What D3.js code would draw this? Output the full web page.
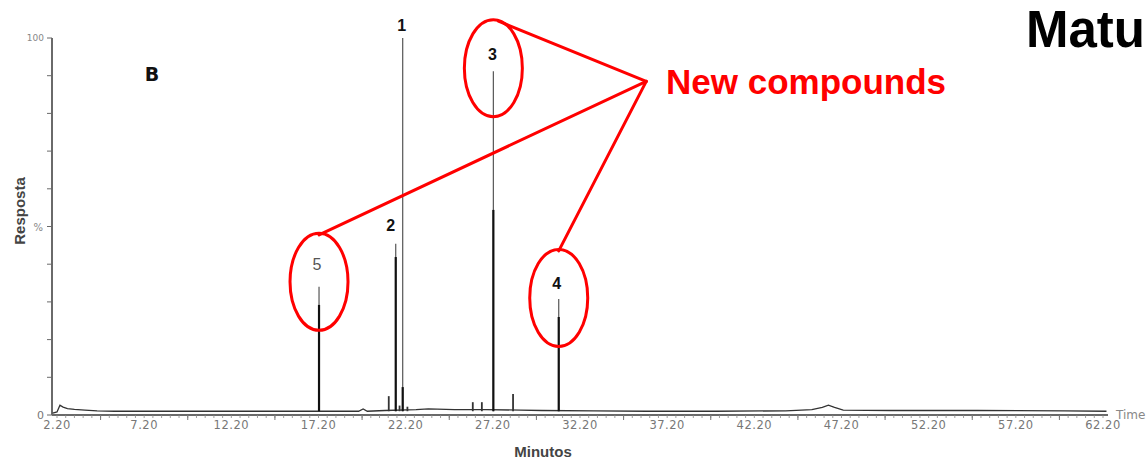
<!DOCTYPE html>
<html>
<head>
<meta charset="utf-8">
<script src="https://cdn.jsdelivr.net/npm/d3@7"></script>
<style>
  html, body { margin: 0; padding: 0; background: #fff; }
  svg { display: block; }
</style>
</head>
<body>
<svg id="chart" width="1147" height="460"></svg>
<script>
// baseline of the trace (minutes, % response)
var traceTimes  = [1.95, 2.2, 2.37, 2.55, 2.8, 3.2, 3.8, 4.5, 5.5, 8, 12, 16, 17.1, 19.5, 19.76, 20.0, 21.0, 22.8, 23.5, 25.0, 26.8, 28.8, 30.0, 33, 36, 40, 44, 45.5, 46.1, 46.45, 46.8, 47.3, 50, 55, 60, 62.4]
var traceValues = [0.5, 0.8, 2.6, 2.1, 1.7, 1.5, 1.3, 1.1, 1.0, 1.0, 1.0, 1.0, 1.0, 1.0, 1.6, 1.0, 1.2, 1.4, 1.6, 1.4, 1.4, 1.3, 1.2, 1.1, 1.0, 1.0, 1.1, 1.4, 2.0, 2.6, 2.0, 1.3, 1.2, 1.2, 1.1, 1.0]

// numbered peaks
var peakNames  = ['1', '2', '3', '4', '5']
var peakTimes  = [22.03, 21.63, 27.23, 30.98, 17.23]
var peakTops   = [100, 45.4, 91.2, 30.8, 34.0]
var peakBodies = [7.4, 41.9, 54.4, 26.0, 29.2]
var newCompounds = ['3', '4', '5']

// small unnamed peaks
var minorTimes  = [21.23, 21.85, 26.05, 26.57, 28.36, 22.3]
var minorValues = [5.0, 2.5, 3.4, 3.4, 5.6, 2.2]

var xLabels = ['2.20', '7.20', '12.20', '17.20', '22.20', '27.20', '32.20', '37.20', '42.20', '47.20', '52.20', '57.20', '62.20']

var svg = d3.select('#chart')
var x = d3.scaleLinear().domain([2.2, 62.2]).range([57, 1103])
var y = d3.scaleLinear().domain([0, 100]).range([415, 38])

var axisColor = '#6a6a6a'
var red = '#ff0000'

// y axis
svg.append('line').attr('x1', 52).attr('x2', 52).attr('y1', y(100)).attr('y2', y(0))
    .style('stroke', axisColor).style('stroke-width', 2)
svg.selectAll('.ytick').data(d3.range(0, 101, 10)).enter().append('line')
    .attr('class', 'ytick')
    .attr('x1', 47).attr('x2', 52).attr('y1', d=>y(d)).attr('y2', d=>y(d))
    .style('stroke', axisColor).style('stroke-width', 1)
svg.append('text').attr('x', 44).attr('y', y(100) + 3).attr('text-anchor', 'end')
    .style('font', '9px "DejaVu Sans"').style('fill', '#888').text('100')
svg.append('text').attr('x', 43).attr('y', y(50) + 4).attr('text-anchor', 'end')
    .style('font', '10px "DejaVu Sans"').style('fill', '#888').text('%')
svg.append('text').attr('x', 44).attr('y', y(0) + 4).attr('text-anchor', 'end')
    .style('font', '11px "DejaVu Sans"').style('fill', '#777').text('0')
svg.append('text').attr('transform', 'translate(25,211) rotate(-90)').attr('text-anchor', 'middle')
    .style('font', '600 15px "Liberation Sans"').style('fill', '#444').text('Resposta')

// x axis
svg.append('line').attr('x1', 52).attr('x2', 1108).attr('y1', y(0)).attr('y2', y(0))
    .style('stroke', axisColor).style('stroke-width', 2)
svg.selectAll('.xminor').data(d3.range(2.2, 62.3, 0.5)).enter().append('line')
    .attr('class', 'xminor')
    .attr('x1', d=>x(d)).attr('x2', d=>x(d)).attr('y1', y(0)).attr('y2', y(0) + 3)
    .style('stroke', '#888').style('stroke-width', 0.8)
svg.selectAll('.xmid').data(d3.range(4.7, 62.3, 5)).enter().append('line')
    .attr('class', 'xmid')
    .attr('x1', d=>x(d)).attr('x2', d=>x(d)).attr('y1', y(0)).attr('y2', y(0) + 5)
    .style('stroke', '#777').style('stroke-width', 1)
svg.selectAll('.xlab').data(xLabels).enter().append('text')
    .attr('class', 'xlab')
    .attr('x', d=>x(+d)).attr('y', 429).attr('text-anchor', 'middle')
    .style('font', '11.5px "DejaVu Sans"').style('fill', '#777').style('letter-spacing', '0.5px')
    .text(d=>d)
svg.append('text').attr('x', 1116).attr('y', 419)
    .style('font', '12px "DejaVu Sans"').style('fill', '#888').text('Time')
svg.append('text').attr('x', 543).attr('y', 457).attr('text-anchor', 'middle')
    .style('font', '600 15px "Liberation Sans"').style('fill', '#444').text('Minutos')

// trace
var line = d3.line().x(d=>x(d[0])).y(d=>y(d[1]))
svg.append('path').attr('d', line(d3.zip(traceTimes, traceValues)))
    .style('fill', 'none').style('stroke', '#333').style('stroke-width', 1.3)

svg.selectAll('.minor').data(d3.zip(minorTimes, minorValues)).enter().append('line')
    .attr('class', 'minor')
    .attr('x1', d=>x(d[0])).attr('x2', d=>x(d[0])).attr('y1', y(1)).attr('y2', d=>y(d[1]))
    .style('stroke', '#333').style('stroke-width', 1.8)

var peaks = peakNames.map((n, i) => ({name: n, t: peakTimes[i], top: peakTops[i], body: peakBodies[i]}))
svg.selectAll('.peak-top').data(peaks).enter().append('line')
    .attr('class', 'peak-top')
    .attr('x1', d=>x(d.t)).attr('x2', d=>x(d.t)).attr('y1', y(1)).attr('y2', d=>y(d.top))
    .style('stroke', '#555').style('stroke-width', 1.2)
svg.selectAll('.peak-body').data(peaks).enter().append('line')
    .attr('class', 'peak-body')
    .attr('x1', d=>x(d.t)).attr('x2', d=>x(d.t)).attr('y1', y(1)).attr('y2', d=>y(d.body))
    .style('stroke', '#111').style('stroke-width', 2.2)

// peak numbers
var labelDx = {'1': -1, '2': -5, '3': -1, '4': -2, '5': -2}
var labelDy = {'1': -7, '2': -13, '3': -11, '4': -10, '5': -17}
svg.selectAll('.plab').data(peaks).enter().append('text')
    .attr('class', 'plab')
    .attr('x', d=>x(d.t) + labelDx[d.name]).attr('y', d=>y(d.top) + labelDy[d.name])
    .attr('text-anchor', 'middle')
    .style('font-family', '"Liberation Sans"')
    .style('font-size', '16px')
    .style('font-weight', d=>d.name == '5' ? 'normal' : 'bold')
    .style('fill', d=>d.name == '5' ? '#555' : '#111')
    .text(d=>d.name)

svg.append('text').attr('x', x(7.65)).attr('y', y(90.4) + 7).attr('text-anchor', 'middle')
    .style('font', 'bold 19px "DejaVu Sans"').style('fill', '#111').text('B')

// red callout for the new compounds
var hub = {t: 36.0, v: 88.5}
var circled = peaks.filter(d=>newCompounds.includes(d.name))
var ellipseDy = {'3': -3, '4': -1, '5': -5}
svg.selectAll('.ring').data(circled).enter().append('ellipse')
    .attr('class', 'ring')
    .attr('cx', d=>x(d.t)).attr('cy', d=>y(d.top) + ellipseDy[d.name])
    .attr('rx', 29).attr('ry', 48.5)
    .style('fill', 'none').style('stroke', red).style('stroke-width', 3)
svg.selectAll('.spoke').data(circled).enter().append('line')
    .attr('class', 'spoke')
    .attr('x1', d=>x(d.t) + (d.name == '3' ? 5 : 0)).attr('y1', d=>y(d.top) + ellipseDy[d.name] - 47)
    .attr('x2', x(hub.t)).attr('y2', y(hub.v))
    .style('stroke', red).style('stroke-width', 3).style('stroke-linecap', 'round')

svg.append('text').attr('x', 666).attr('y', 94)
    .style('font', 'bold 35px "Liberation Sans"').style('fill', red).text('New compounds')
svg.append('text').attr('x', 1026).attr('y', 47)
    .style('font', 'bold 51px "Liberation Sans"').style('fill', '#000').text('Matu')
</script>
</body>
</html>
